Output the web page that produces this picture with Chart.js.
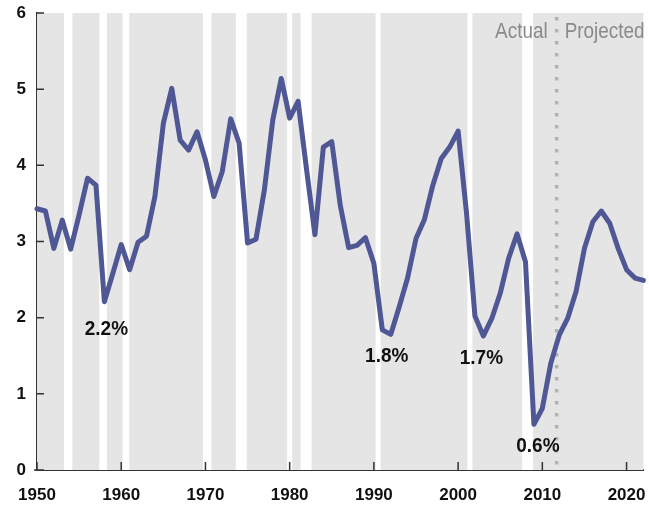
<!DOCTYPE html>
<html>
<head>
<meta charset="utf-8">
<script src="https://cdn.jsdelivr.net/npm/chart.js@4.4.1/dist/chart.umd.min.js"></script>
<style>
  html, body { margin: 0; padding: 0; background: #fff; }
  #wrap { width: 649px; height: 506px; }
</style>
</head>
<body>
<div id="wrap"><canvas id="chart" width="649" height="506"></canvas></div>
<script>
// Years and growth values (percent)
const years = [
  1950, 1951, 1952, 1953, 1954, 1955, 1956, 1957, 1958, 1959,
  1960, 1961, 1962, 1963, 1964, 1965, 1966, 1967, 1968, 1969,
  1970, 1971, 1972, 1973, 1974, 1975, 1976, 1977, 1978, 1979,
  1980, 1981, 1982, 1983, 1984, 1985, 1986, 1987, 1988, 1989,
  1990, 1991, 1992, 1993, 1994, 1995, 1996, 1997, 1998, 1999,
  2000, 2001, 2002, 2003, 2004, 2005, 2006, 2007, 2008, 2009,
  2010, 2011, 2012, 2013, 2014, 2015, 2016, 2017, 2018, 2019,
  2020, 2021, 2022
];
const growth = [
  3.43, 3.40, 2.91, 3.28, 2.90, 3.35, 3.83, 3.74, 2.21, 2.58,
  2.96, 2.63, 2.99, 3.07, 3.59, 4.55, 5.01, 4.33, 4.20, 4.44,
  4.07, 3.59, 3.92, 4.61, 4.29, 2.98, 3.03, 3.68, 4.60, 5.14,
  4.62, 4.84, 3.95, 3.09, 4.24, 4.31, 3.48, 2.92, 2.95, 3.05,
  2.71, 1.84, 1.78, 2.14, 2.52, 3.04, 3.29, 3.74, 4.09, 4.24,
  4.45, 3.37, 2.02, 1.76, 1.99, 2.32, 2.78, 3.10, 2.73, 0.60,
  0.81, 1.40, 1.77, 1.99, 2.34, 2.91, 3.26, 3.40, 3.24, 2.91,
  2.63, 2.52, 2.49
];

// Recession periods (white bands)
const recessionStart = [1953.2, 1957.4, 1960.15, 1969.7, 1973.6, 1979.7, 1981.3, 1990.2, 2001.1, 2007.6];
const recessionEnd   = [1954.2, 1958.3, 1960.95, 1970.7, 1974.9, 1980.3, 1982.6, 1990.8, 2001.7, 2008.9];

// Low points that get a label
const lowYears = [1958, 1992, 2003, 2009];
const lowLabels = ['2.2%', '1.8%', '1.7%', '0.6%'];

const projectionYear = 2011.7;
const xTicks = [1950, 1960, 1970, 1980, 1990, 2000, 2010, 2020];
const yTicks = [0, 1, 2, 3, 4, 5, 6];

const FONT = "'Liberation Sans', Arial, sans-serif";

// label offsets from the low point, in pixels
const lowOffsets = [[2, 28], [-4, 22], [-2, 23], [4, 22]];

// draw text squeezed horizontally (no condensed font installed)
function narrowText(ctx, text, x, y, align, squeeze) {
    ctx.save();
    ctx.translate(x, y);
    ctx.scale(squeeze, 1);
    ctx.textAlign = align;
    ctx.fillText(text, 0, 0);
    ctx.restore();
}

const backdrop = {
    id: 'backdrop',
    beforeDatasetsDraw(chart) {
        const { ctx, chartArea: a, scales: { x } } = chart;
        ctx.save();
        ctx.fillStyle = '#e5e5e5';
        ctx.fillRect(a.left, a.top, a.right - a.left, a.bottom - a.top);
        ctx.fillStyle = '#ffffff';
        recessionStart.forEach((s, i) => {
            const x0 = x.getPixelForValue(s);
            const x1 = x.getPixelForValue(recessionEnd[i]);
            ctx.fillRect(x0, a.top, x1 - x0, a.bottom - a.top);
        });
        // projection divider
        const px = x.getPixelForValue(projectionYear);
        ctx.strokeStyle = '#b2b2b2';
        ctx.lineWidth = 3.5;
        ctx.setLineDash([3.5, 8.5]);
        ctx.beginPath();
        ctx.moveTo(px, a.top + 4);
        ctx.lineTo(px, a.bottom);
        ctx.stroke();
        ctx.setLineDash([]);
        ctx.font = '22px ' + FONT;
        ctx.fillStyle = '#8a8a8a';
        ctx.textBaseline = 'middle';
        narrowText(ctx, 'Actual', px - 9, a.top + 19, 'right', 0.86);
        narrowText(ctx, 'Projected', px + 8, a.top + 19, 'left', 0.86);
        ctx.restore();
    },
    afterDraw(chart) {
        const { ctx, chartArea: a, scales: { x, y } } = chart;
        ctx.save();
        ctx.strokeStyle = '#333';
        ctx.lineWidth = 1.5;
        ctx.beginPath();
        yTicks.forEach(v => {
            const py = y.getPixelForValue(v);
            ctx.moveTo(a.left, py);
            ctx.lineTo(a.left + 7, py);
        });
        xTicks.forEach(v => {
            const px = x.getPixelForValue(v);
            ctx.moveTo(px, a.bottom);
            ctx.lineTo(px, a.bottom - 8);
        });
        ctx.moveTo(a.left - 3, a.bottom);
        ctx.lineTo(a.left, a.bottom);
        ctx.stroke();

        ctx.font = 'bold 20px ' + FONT;
        ctx.fillStyle = '#111';
        ctx.textBaseline = 'middle';
        lowYears.forEach((yr, i) => {
            const idx = years.indexOf(yr);
            const px = x.getPixelForValue(yr);
            const py = y.getPixelForValue(growth[idx]);
            narrowText(ctx, lowLabels[i], px + lowOffsets[i][0], py + lowOffsets[i][1], 'center', 0.95);
        });
        ctx.restore();
    }
};

new Chart(document.getElementById('chart'), {
    type: 'line',
    data: {
        datasets: [{
            data: years.map((yr, i) => ({ x: yr, y: growth[i] })),
            borderColor: '#4f5795',
            borderWidth: 5,
            pointRadius: 0,
            tension: 0,
            borderJoinStyle: 'round',
            borderCapStyle: 'round',
            clip: false
        }]
    },
    options: {
        responsive: false,
        animation: false,
        layout: { padding: { top: 13, right: 5.6, left: 0, bottom: 0 } },
        plugins: { legend: { display: false }, tooltip: { enabled: false } },
        scales: {
            x: {
                type: 'linear',
                min: 1950,
                max: 2022,
                grid: { display: false, drawTicks: false },
                border: { display: true, color: '#333', width: 2 },
                ticks: {
                    stepSize: 10,
                    includeBounds: false,
                    padding: 15,
                    maxRotation: 0,
                    autoSkip: false,
                    color: '#111',
                    font: { family: FONT, size: 17, weight: 'bold' },
                    callback: v => String(v)
                },
                afterFit: s => {
                    s.height = 36;
                    s.paddingLeft = 0;
                    s.paddingRight = 0;
                }
            },
            y: {
                min: 0,
                max: 6,
                grid: { display: false, drawTicks: false },
                border: { display: true, color: '#333', width: 1.5 },
                ticks: {
                    stepSize: 1,
                    padding: 11,
                    color: '#111',
                    font: { family: FONT, size: 17, weight: 'bold' }
                },
                afterFit: s => {
                    s.width = 37;
                    s.paddingTop = 0;
                    s.paddingBottom = 0;
                }
            }
        }
    },
    plugins: [backdrop]
});
</script>
</body>
</html>
